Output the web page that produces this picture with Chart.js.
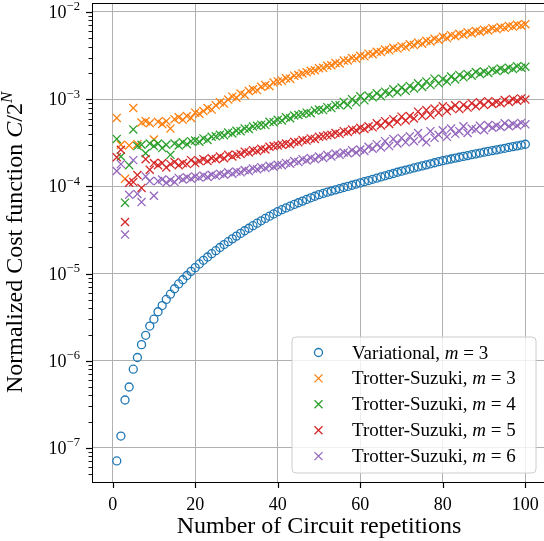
<!DOCTYPE html>
<html lang="en">
  <head>
    <meta charset="UTF-8" />
    <title>Cost function vs circuit repetitions</title>
    <script src="https://cdn.jsdelivr.net/npm/chart.js@4.4.0/dist/chart.umd.min.js"></script>
    <style>
      html, body { margin: 0; padding: 0; background: #fff; overflow: hidden; }
      #wrap { width: 546px; height: 541px; }
    </style>
  </head>
  <body>
    <div id="wrap"><canvas id="myChart" width="546" height="541"></canvas></div>
    <script>
      // circuit repetitions 1..100
      const reps = Array.from({ length: 100 }, (_, i) => i + 1);

      const variational = [
        7.1e-8, 1.37e-7, 3.55e-7, 5.0e-7, 8.0e-7, 1.09e-6, 1.53e-6, 1.96e-6, 2.5e-6, 3.0e-6,
        3.65e-6, 4.3e-6, 5.05e-6, 5.8e-6, 6.7e-6, 7.6e-6, 8.5e-6, 9.5e-6, 1.06e-5, 1.17e-5,
        1.29e-5, 1.42e-5, 1.55e-5, 1.69e-5, 1.83e-5, 1.99e-5, 2.15e-5, 2.32e-5, 2.5e-5, 2.69e-5,
        2.89e-5, 3.1e-5, 3.31e-5, 3.54e-5, 3.78e-5, 4.03e-5, 4.29e-5, 4.55e-5, 4.83e-5, 5.13e-5,
        5.4e-5, 5.66e-5, 5.93e-5, 6.21e-5, 6.49e-5, 6.78e-5, 7.08e-5, 7.4e-5, 7.71e-5, 8.04e-5,
        8.3e-5, 8.57e-5, 8.85e-5, 9.12e-5, 9.4e-5, 9.71e-5, 1.0e-4, 1.03e-4, 1.064e-4, 1.096e-4,
        1.132e-4, 1.167e-4, 1.205e-4, 1.242e-4, 1.282e-4, 1.321e-4, 1.365e-4, 1.406e-4, 1.452e-4, 1.496e-4,
        1.538e-4, 1.581e-4, 1.626e-4, 1.671e-4, 1.718e-4, 1.766e-4, 1.816e-4, 1.866e-4, 1.919e-4, 1.972e-4,
        2.018e-4, 2.061e-4, 2.109e-4, 2.158e-4, 2.208e-4, 2.254e-4, 2.307e-4, 2.36e-4, 2.41e-4, 2.466e-4,
        2.518e-4, 2.57e-4, 2.624e-4, 2.679e-4, 2.735e-4, 2.799e-4, 2.858e-4, 2.917e-4, 2.979e-4, 3.041e-4
      ];

      const trotter3 = [
        6.1e-4, 3.0e-4, 1.22e-4, 2.95e-4, 7.9e-4, 3.05e-4, 5.4e-4, 5.6e-4, 5.3e-4, 3.45e-4,
        5.5e-4, 5.2e-4, 5.6e-4, 4.6e-4, 5.9e-4, 6.2e-4, 5.8e-4, 6.4e-4, 6.1e-4, 7.0e-4,
        6.8e-4, 7.3e-4, 7.9e-4, 7.6e-4, 8.5e-4, 9.2e-4, 8.9e-4, 9.9e-4, 1.07e-3, 1.04e-3,
        1.16e-3, 1.12e-3, 1.24e-3, 1.3e-3, 1.27e-3, 1.39e-3, 1.45e-3, 1.41e-3, 1.55e-3, 1.6e-3,
        1.63e-3, 1.74e-3, 1.72e-3, 1.86e-3, 1.89e-3, 1.97e-3, 2.04e-3, 2.12e-3, 2.15e-3, 2.27e-3,
        2.29e-3, 2.42e-3, 2.45e-3, 2.6e-3, 2.57e-3, 2.77e-3, 2.78e-3, 2.96e-3, 2.92e-3, 3.14e-3,
        3.1e-3, 3.33e-3, 3.28e-3, 3.5e-3, 3.47e-3, 3.71e-3, 3.63e-3, 3.89e-3, 3.8e-3, 4.06e-3,
        3.96e-3, 4.26e-3, 4.17e-3, 4.46e-3, 4.33e-3, 4.68e-3, 4.6e-3, 4.92e-3, 4.77e-3, 5.2e-3,
        5.02e-3, 5.42e-3, 5.28e-3, 5.62e-3, 5.48e-3, 5.87e-3, 5.7e-3, 6.06e-3, 5.93e-3, 6.27e-3,
        6.13e-3, 6.5e-3, 6.36e-3, 6.7e-3, 6.58e-3, 6.92e-3, 6.8e-3, 7.12e-3, 7.0e-3, 7.25e-3
      ];

      const trotter4 = [
        3.5e-4, 2.2e-4, 6.5e-5, 1.75e-4, 4.5e-4, 2.9e-4, 3.0e-4, 2.4e-4, 3.1e-4, 2.9e-4,
        3.1e-4, 2.75e-4, 3.0e-4, 2.3e-4, 3.1e-4, 2.95e-4, 3.2e-4, 3.05e-4, 3.3e-4, 3.35e-4,
        3.25e-4, 3.55e-4, 3.4e-4, 3.7e-4, 3.75e-4, 3.9e-4, 3.85e-4, 4.15e-4, 4.05e-4, 4.35e-4,
        4.3e-4, 4.6e-4, 4.55e-4, 4.85e-4, 4.95e-4, 5.1e-4, 5.05e-4, 5.5e-4, 5.45e-4, 5.8e-4,
        5.7e-4, 6.2e-4, 6.05e-4, 6.5e-4, 6.6e-4, 6.75e-4, 7.0e-4, 6.9e-4, 7.4e-4, 7.6e-4,
        7.5e-4, 8.1e-4, 7.9e-4, 8.6e-4, 8.5e-4, 9.3e-4, 8.6e-4, 1.0e-3, 9.2e-4, 1.08e-3,
        9.7e-4, 1.1e-3, 1.05e-3, 1.17e-3, 1.08e-3, 1.22e-3, 1.16e-3, 1.3e-3, 1.2e-3, 1.36e-3,
        1.25e-3, 1.42e-3, 1.33e-3, 1.52e-3, 1.38e-3, 1.6e-3, 1.45e-3, 1.72e-3, 1.52e-3, 1.7e-3,
        1.6e-3, 1.82e-3, 1.68e-3, 1.9e-3, 1.78e-3, 1.95e-3, 1.86e-3, 2.05e-3, 1.95e-3, 2.08e-3,
        2.0e-3, 2.18e-3, 2.1e-3, 2.25e-3, 2.15e-3, 2.3e-3, 2.22e-3, 2.38e-3, 2.3e-3, 2.36e-3
      ];

      const trotter5 = [
        2.16e-4, 2.63e-4, 3.9e-5, 1.1e-4, 1.12e-4, 1.35e-4, 9.6e-5, 2.05e-4, 1.55e-4, 1.85e-4,
        1.75e-4, 1.85e-4, 1.65e-4, 1.8e-4, 1.9e-4, 1.75e-4, 1.85e-4, 1.8e-4, 2.0e-4, 1.85e-4,
        1.95e-4, 2.05e-4, 1.95e-4, 2.1e-4, 2.05e-4, 2.2e-4, 2.1e-4, 2.3e-4, 2.2e-4, 2.3e-4,
        2.35e-4, 2.5e-4, 2.45e-4, 2.6e-4, 2.55e-4, 2.7e-4, 2.65e-4, 2.85e-4, 2.9e-4, 2.95e-4,
        3.0e-4, 3.1e-4, 3.05e-4, 3.25e-4, 3.2e-4, 3.4e-4, 3.35e-4, 3.55e-4, 3.5e-4, 3.7e-4,
        3.75e-4, 3.85e-4, 3.9e-4, 4.1e-4, 4.0e-4, 4.3e-4, 4.2e-4, 4.5e-4, 4.4e-4, 4.7e-4,
        4.55e-4, 4.9e-4, 4.75e-4, 5.3e-4, 5.0e-4, 5.6e-4, 5.2e-4, 5.9e-4, 5.5e-4, 6.3e-4,
        5.7e-4, 6.4e-4, 6.0e-4, 7.2e-4, 6.4e-4, 7.5e-4, 6.6e-4, 7.8e-4, 7.0e-4, 8.3e-4,
        7.3e-4, 7.9e-4, 8.5e-4, 7.7e-4, 8.6e-4, 8.0e-4, 9.0e-4, 8.3e-4, 9.2e-4, 8.6e-4,
        9.5e-4, 8.8e-4, 9.3e-4, 9.0e-4, 9.8e-4, 9.3e-4, 1.0e-3, 9.6e-4, 1.02e-3, 9.9e-4
      ];

      const trotter6 = [
        1.5e-4, 1.8e-4, 2.8e-5, 8.0e-5, 2.0e-4, 8.2e-5, 6.6e-5, 1.3e-4, 1.15e-4, 7.8e-5,
        1.15e-4, 1.2e-4, 1.1e-4, 1.18e-4, 1.12e-4, 1.25e-4, 1.2e-4, 1.27e-4, 1.22e-4, 1.3e-4,
        1.26e-4, 1.33e-4, 1.28e-4, 1.36e-4, 1.32e-4, 1.4e-4, 1.36e-4, 1.45e-4, 1.4e-4, 1.48e-4,
        1.45e-4, 1.54e-4, 1.5e-4, 1.6e-4, 1.57e-4, 1.66e-4, 1.62e-4, 1.72e-4, 1.68e-4, 1.77e-4,
        1.75e-4, 1.86e-4, 1.82e-4, 1.95e-4, 1.9e-4, 2.05e-4, 1.98e-4, 2.12e-4, 2.05e-4, 2.2e-4,
        2.12e-4, 2.3e-4, 2.2e-4, 2.38e-4, 2.3e-4, 2.45e-4, 2.4e-4, 2.6e-4, 2.45e-4, 2.65e-4,
        2.55e-4, 2.85e-4, 2.7e-4, 3.05e-4, 2.8e-4, 3.3e-4, 2.9e-4, 3.5e-4, 3.1e-4, 3.6e-4,
        3.2e-4, 3.75e-4, 3.3e-4, 4.1e-4, 3.5e-4, 3.2e-4, 4.3e-4, 3.6e-4, 3.9e-4, 4.4e-4,
        3.7e-4, 4.6e-4, 4.0e-4, 4.3e-4, 4.9e-4, 4.1e-4, 4.6e-4, 4.5e-4, 4.95e-4, 4.4e-4,
        5.05e-4, 4.7e-4, 5.0e-4, 4.8e-4, 5.3e-4, 4.9e-4, 5.2e-4, 5.0e-4, 5.35e-4, 5.15e-4
      ];

      const seriesNames = ["Variational", "Trotter-Suzuki", "Trotter-Suzuki", "Trotter-Suzuki", "Trotter-Suzuki"];
      const seriesM = [3, 3, 4, 5, 6];
      const seriesValues = [variational, trotter3, trotter4, trotter5, trotter6];
      const seriesColors = ["#1f77b4", "#ff7f0e", "#2ca02c", "#d62728", "#9467bd"];

      const xTicks = [0, 20, 40, 60, 80, 100];
      const yDecades = [-7, -6, -5, -4, -3, -2];

      const FONT = "'Liberation Serif', 'Times New Roman', serif";

      // draw a row of text pieces, some italic, some raised
      function drawRuns(ctx, runs, x, y, size) {
        let cx = x;
        runs.forEach((r) => {
          const s = r.sup ? size * 0.7 : size;
          ctx.font = (r.it ? "italic " : "") + s + "px " + FONT;
          ctx.fillText(r.t, cx, r.sup ? y - size * 0.42 : y);
          cx += ctx.measureText(r.t).width;
        });
        return cx - x;
      }
      function runsWidth(ctx, runs, size) {
        let w = 0;
        runs.forEach((r) => {
          const s = r.sup ? size * 0.7 : size;
          ctx.font = (r.it ? "italic " : "") + s + "px " + FONT;
          w += ctx.measureText(r.t).width;
        });
        return w;
      }

      const decor = {
        id: "decor",
        afterDraw(chart) {
          const ctx = chart.ctx;
          const a = chart.chartArea;
          const xs = chart.scales.x;
          const ys = chart.scales.y;
          ctx.save();
          ctx.strokeStyle = "#000";
          ctx.fillStyle = "#000";

          // top spine
          ctx.lineWidth = 1;
          ctx.beginPath();
          ctx.moveTo(a.left, a.top + 0.5);
          ctx.lineTo(a.right, a.top + 0.5);
          ctx.stroke();

          // tick marks
          ys.ticks.forEach((t) => {
            const y = Math.round(ys.getPixelForValue(t.value)) + 0.5;
            const len = t.major ? 6 : 3.5;
            ctx.lineWidth = t.major ? 1.2 : 0.9;
            ctx.beginPath();
            ctx.moveTo(a.left - len, y);
            ctx.lineTo(a.left, y);
            ctx.stroke();
          });
          xs.ticks.forEach((t) => {
            const x = Math.round(xs.getPixelForValue(t.value)) + 0.5;
            ctx.lineWidth = 1.2;
            ctx.beginPath();
            ctx.moveTo(x, a.bottom);
            ctx.lineTo(x, a.bottom + 6);
            ctx.stroke();
          });

          // y tick labels 10^k
          ctx.textBaseline = "alphabetic";
          ctx.textAlign = "left";
          yDecades.forEach((k) => {
            const y = ys.getPixelForValue(Math.pow(10, k));
            const runs = [{ t: "10" }, { t: "\u2212" + Math.abs(k), sup: true }];
            const w = runsWidth(ctx, runs, 18);
            drawRuns(ctx, runs, a.left - 12 - w, y + 6, 18);
          });

          // y axis title
          const title = [
            { t: "Normalized Cost function " },
            { t: "C", it: true },
            { t: "/2" },
            { t: "N", it: true, sup: true },
          ];
          ctx.save();
          ctx.translate(22, (a.top + a.bottom) / 2);
          ctx.rotate(-Math.PI / 2);
          const tw = runsWidth(ctx, title, 24);
          drawRuns(ctx, title, -tw / 2, 0, 24);
          ctx.restore();

          // legend
          const lw = 244, lh = 136;
          const lx = a.right - 10 - lw, ly = a.bottom - 9 - lh;
          const rr = 4;
          ctx.beginPath();
          ctx.moveTo(lx + rr, ly);
          ctx.lineTo(lx + lw - rr, ly);
          ctx.quadraticCurveTo(lx + lw, ly, lx + lw, ly + rr);
          ctx.lineTo(lx + lw, ly + lh - rr);
          ctx.quadraticCurveTo(lx + lw, ly + lh, lx + lw - rr, ly + lh);
          ctx.lineTo(lx + rr, ly + lh);
          ctx.quadraticCurveTo(lx, ly + lh, lx, ly + lh - rr);
          ctx.lineTo(lx, ly + rr);
          ctx.quadraticCurveTo(lx, ly, lx + rr, ly);
          ctx.closePath();
          ctx.fillStyle = "rgba(255,255,255,0.8)";
          ctx.fill();
          ctx.strokeStyle = "#cccccc";
          ctx.lineWidth = 1;
          ctx.stroke();

          seriesNames.forEach((name, i) => {
            const cy = ly + 15.5 + i * 25.9;
            const mx = lx + 26.5;
            ctx.strokeStyle = seriesColors[i];
            ctx.lineWidth = 1.3;
            ctx.beginPath();
            if (i === 0) {
              ctx.arc(mx, cy, 4, 0, Math.PI * 2);
            } else {
              ctx.moveTo(mx - 4, cy - 4);
              ctx.lineTo(mx + 4, cy + 4);
              ctx.moveTo(mx + 4, cy - 4);
              ctx.lineTo(mx - 4, cy + 4);
            }
            ctx.stroke();
            ctx.fillStyle = "#000";
            drawRuns(
              ctx,
              [{ t: name + ", " }, { t: "m", it: true }, { t: " = " + seriesM[i] }],
              lx + 60,
              cy + 6,
              19
            );
          });
          ctx.restore();
        },
      };

      const datasets = seriesValues.map((vals, i) => ({
        label: seriesNames[i] + ", m = " + seriesM[i],
        data: reps.map((x, j) => ({ x: x, y: vals[j] })),
        pointStyle: i === 0 ? "circle" : "crossRot",
        pointRadius: i === 0 ? 4 : 5.7,
        pointBorderWidth: 1.3,
        borderColor: seriesColors[i],
        backgroundColor: i === 0 ? "rgba(0,0,0,0)" : seriesColors[i],
        showLine: false,
        order: 5 - i,
      }));

      const ctx = document.getElementById("myChart").getContext("2d");
      const myChart = new Chart(ctx, {
        type: "scatter",
        data: { datasets: datasets },
        options: {
          responsive: false,
          animation: false,
          layout: { autoPadding: false, padding: { top: 3, left: 0, right: 0, bottom: 0 } },
          plugins: { legend: { display: false }, tooltip: { enabled: false } },
          scales: {
            x: {
              type: "linear",
              min: -5,
              max: 105,
              afterBuildTicks(scale) {
                scale.ticks = xTicks.map((v) => ({ value: v }));
              },
              afterFit(scale) {
                scale.height = 59;
                scale.paddingLeft = 0;
                scale.paddingRight = 0;
              },
              grid: { color: "#b0b0b0", lineWidth: 1, drawTicks: false },
              border: { display: true, color: "#000", width: 1 },
              ticks: {
                padding: 12,
                color: "#000",
                font: { family: FONT, size: 18 },
                maxRotation: 0,
                callback: (v) => String(v),
              },
              title: {
                display: true,
                text: "Number of Circuit repetitions",
                color: "#000",
                font: { family: FONT, size: 24 },
                padding: { top: 0, bottom: 0 },
              },
            },
            y: {
              type: "logarithmic",
              min: 4.07e-8,
              max: 1.268e-2,
              afterBuildTicks(scale) {
                const t = [];
                for (let k = -8; k <= -2; k++) {
                  for (let m = 1; m <= 9; m++) {
                    const v = m * Math.pow(10, k);
                    if (v >= scale.min && v <= scale.max) t.push({ value: v, major: m === 1 });
                  }
                }
                scale.ticks = t;
              },
              afterFit(scale) {
                scale.width = 92;
                scale.paddingTop = 0;
                scale.paddingBottom = 0;
              },
              grid: {
                color: (c) => (c.tick && c.tick.major ? "#b0b0b0" : "rgba(0,0,0,0)"),
                lineWidth: 1,
                drawTicks: false,
              },
              border: { display: true, color: "#000", width: 1 },
              ticks: { display: false },
            },
          },
        },
        plugins: [decor],
      });
    </script>
  </body>
</html>
